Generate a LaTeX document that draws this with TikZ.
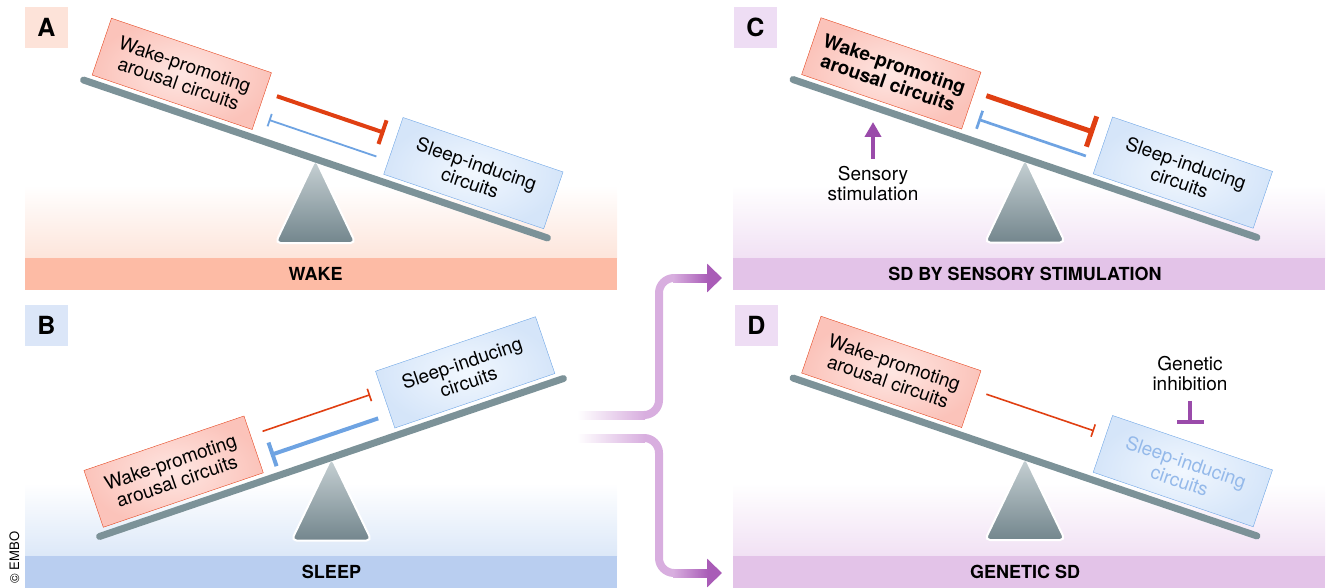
\documentclass[tikz,border=0pt]{standalone}
\usepackage{fontspec}
\setmainfont{TeX Gyre Heros}
\usetikzlibrary{arrows.meta}

\definecolor{wakered}{HTML}{E5461F}
\definecolor{inhibred}{HTML}{E03F12}
\definecolor{wakein}{HTML}{FEE6E2}
\definecolor{wakeout}{HTML}{FBC3BA}
\definecolor{sleepblue}{HTML}{6FA6E6}
\definecolor{inhibblue}{HTML}{6EA3E2}
\definecolor{sleepin}{HTML}{F1F7FE}
\definecolor{sleepout}{HTML}{D5E5F9}
\definecolor{fadeblue}{HTML}{94B9EA}
\definecolor{beamgrey}{HTML}{7C9298}
\definecolor{fulctop}{HTML}{C8D2D5}
\definecolor{fulcbot}{HTML}{73868D}
\definecolor{wakeband}{HTML}{FDBBA5}
\definecolor{wakebg}{HTML}{FDE5DB}
\definecolor{waketag}{HTML}{FDE3D9}
\definecolor{sleepband}{HTML}{B9CEF0}
\definecolor{sleepbg}{HTML}{DCE8F8}
\definecolor{sleeptag}{HTML}{DBE6F8}
\definecolor{sdband}{HTML}{E3C3E8}
\definecolor{sdbg}{HTML}{F1E1F4}
\definecolor{sdtag}{HTML}{EEDDF4}
\definecolor{lilac}{HTML}{D8AEDF}
\definecolor{plum}{HTML}{A95CB7}
\definecolor{flowblue}{HTML}{B8CDF2}
\definecolor{stimpurple}{HTML}{9A4BAA}

\begin{document}
\begin{tikzpicture}[x=1pt,y=-1pt,
  box/.style={minimum width=169pt,minimum height=60pt,inner sep=2pt,align=center,
    font=\fontsize{19}{20}\selectfont},
  wake/.style={box,draw=wakered,inner color=wakein,outer color=wakeout},
  sleep/.style={box,draw=sleepblue,inner color=sleepin,outer color=sleepout},
  beam/.style={draw=beamgrey,line width=7pt,line cap=round},
  fulcrum/.style={draw=white,line width=2pt,rounded corners=5pt,top color=fulctop,bottom color=fulcbot},
  tag/.style={minimum width=43pt,minimum height=41pt,inner sep=0pt,font=\bfseries\fontsize{25}{25}\selectfont},
  bandtext/.style={inner sep=0pt,font=\bfseries\fontsize{18}{18}\selectfont},
  note/.style={align=center,inner sep=0pt,anchor=north,font=\fontsize{19}{20}\selectfont},
  inhib/.style={shorten <=12.5pt,shorten >=12.5pt},
  thickR/.style={inhib,draw=inhibred,line width=4pt,-{Bar[width=25pt]}},
  thinR/.style={inhib,draw=inhibred,line width=1.6pt,-{Bar[width=13pt]}},
  thickB/.style={inhib,draw=inhibblue,line width=4pt,-{Bar[width=25pt]}},
  thinB/.style={inhib,draw=inhibblue,line width=1.8pt,-{Bar[width=13pt]}},
  flow/.style={draw=lilac,line width=8pt,rounded corners=15pt,-{Triangle[length=15pt,width=28pt,color=plum]}}]
  \useasboundingbox (0,0) rectangle (1330,588);

  % A: wake
  \shade[top color=white,bottom color=wakebg] (25,185) rectangle (617,258);
  \fill[wakeband] (25,258) rectangle (617,290);
  \node[bandtext] (wakeT) at (315.5,274) {WAKE};
  \node[tag,fill=waketag] (tagA) at (46.5,27.5) {A};
  \begin{scope}[shift={(315.5,159)}]
    \shadedraw[fulcrum] (0,0) -- (40,84) -- (-40,84) -- cycle;
    \begin{scope}[rotate=-18.8,y=1pt,transform shape]
      \draw[beam] (-245,0) -- (245,0);
      \node[wake] (wakeA) at (-154,37.5) {Wake-promoting\\arousal circuits};
      \node[sleep] (sleepA) at (154,37.5) {Sleep-inducing\\circuits};
      \draw[thickR] ([yshift=9.5pt]wakeA.east) -- ([yshift=9.5pt]sleepA.west);
      \draw[thinB] ([yshift=-15.5pt]sleepA.west) -- ([yshift=-15.5pt]wakeA.east);
    \end{scope}
  \end{scope}

  % B: sleep
  \shade[top color=white,bottom color=sleepbg] (25,483) rectangle (617,556);
  \fill[sleepband] (25,556) rectangle (617,588);
  \node[bandtext] (sleepT) at (331.5,572) {SLEEP};
  \node[tag,fill=sleeptag] (tagB) at (46.5,325.5) {B};
  \begin{scope}[shift={(331.5,457.5)}]
    \shadedraw[fulcrum] (0,0) -- (40,83) -- (-40,83) -- cycle;
    \begin{scope}[rotate=18.8,y=1pt,transform shape]
      \draw[beam] (-245,0) -- (245,0);
      \node[wake] (wakeB) at (-154,37.5) {Wake-promoting\\arousal circuits};
      \node[sleep] (sleepB) at (154,37.5) {Sleep-inducing\\circuits};
      \draw[thinR] ([yshift=9.5pt]wakeB.east) -- ([yshift=9.5pt]sleepB.west);
      \draw[thickB] ([yshift=-15.5pt]sleepB.west) -- ([yshift=-15.5pt]wakeB.east);
    \end{scope}
  \end{scope}
  \node[rotate=90,inner sep=0pt,font=\fontsize{13}{13}\selectfont] (embo) at (14.5,557.5) {© EMBO};

  % C: sensory stimulation
  \shade[top color=white,bottom color=sdbg] (733,185) rectangle (1325,258);
  \fill[sdband] (733,258) rectangle (1325,290);
  \node[bandtext] (sdT) at (1025,274) {SD BY SENSORY STIMULATION};
  \node[tag,fill=sdtag] (tagC) at (755.5,27.5) {C};
  \begin{scope}[shift={(1025,158.5)}]
    \shadedraw[fulcrum] (0,0) -- (40,84) -- (-40,84) -- cycle;
    \begin{scope}[rotate=-18.8,y=1pt,transform shape]
      \draw[beam] (-245,0) -- (245,0);
      \node[wake,font=\bfseries\fontsize{19}{20}\selectfont] (wakeC) at (-154,37.5) {Wake-promoting\\arousal circuits};
      \node[sleep] (sleepC) at (154,37.5) {Sleep-inducing\\circuits};
      \draw[thickR,line width=5pt,-{Bar[width=32pt]}] ([yshift=9.5pt]wakeC.east) -- ([yshift=9.5pt]sleepC.west);
      \draw[thinB,line width=2.7pt,-{Bar[width=19pt]}] ([yshift=-15.5pt]sleepC.west) -- ([yshift=-15.5pt]wakeC.east);
    \end{scope}
  \end{scope}
  \node[note] (sensory) at (873,166) {Sensory\\stimulation};
  \coordinate (stimTip) at (873,122);
  \draw[draw=stimpurple,line width=4pt,shorten <=7pt,-{Triangle[length=15pt,width=16pt]}] (sensory.north) -- (stimTip);

  % D: genetic
  \shade[top color=white,bottom color=sdbg] (733,483) rectangle (1325,556);
  \fill[sdband] (733,556) rectangle (1325,588);
  \node[bandtext] (genT) at (1025,572) {GENETIC SD};
  \node[tag,fill=sdtag] (tagD) at (756.5,325.5) {D};
  \begin{scope}[shift={(1025,457)}]
    \shadedraw[fulcrum] (0,0) -- (40,83) -- (-40,83) -- cycle;
    \begin{scope}[rotate=-18.8,y=1pt,transform shape]
      \draw[beam] (-245,0) -- (245,0);
      \node[wake] (wakeD) at (-154,37.5) {Wake-promoting\\arousal circuits};
      \node[sleep,text=fadeblue] (sleepD) at (154,37.5) {Sleep-inducing\\circuits};
      \draw[thinR] ([yshift=9.5pt]wakeD.east) -- ([yshift=9.5pt]sleepD.west);
    \end{scope}
  \end{scope}
  \node[note] (genetic) at (1190,356) {Genetic\\inhibition};
  \coordinate (genBar) at (1190,424);
  \draw[draw=stimpurple,line width=4.5pt,shorten <=10pt,-{Bar[width=27pt]}] (genetic.south) -- (genBar);

  % flow arrows
  \coordinate (outB1) at (577,415);
  \coordinate (outB2) at (577,438);
  \coordinate (inC) at (722,278);
  \coordinate (inD) at (722,573);
  \draw[flow] (outB1) -- ++(82,0) |- (inC);
  \draw[flow] (outB2) -- ++(82,0) |- (inD);
  \shade[left color=white,middle color=flowblue,right color=lilac] (577,411) rectangle (645,419);
  \shade[left color=white,middle color=flowblue,right color=lilac] (577,434) rectangle (645,442);
  \shade[left color=lilac,right color=plum] (673,274) rectangle (708,282);
  \shade[left color=lilac,right color=plum] (673,569) rectangle (708,577);
\end{tikzpicture}
\end{document}
